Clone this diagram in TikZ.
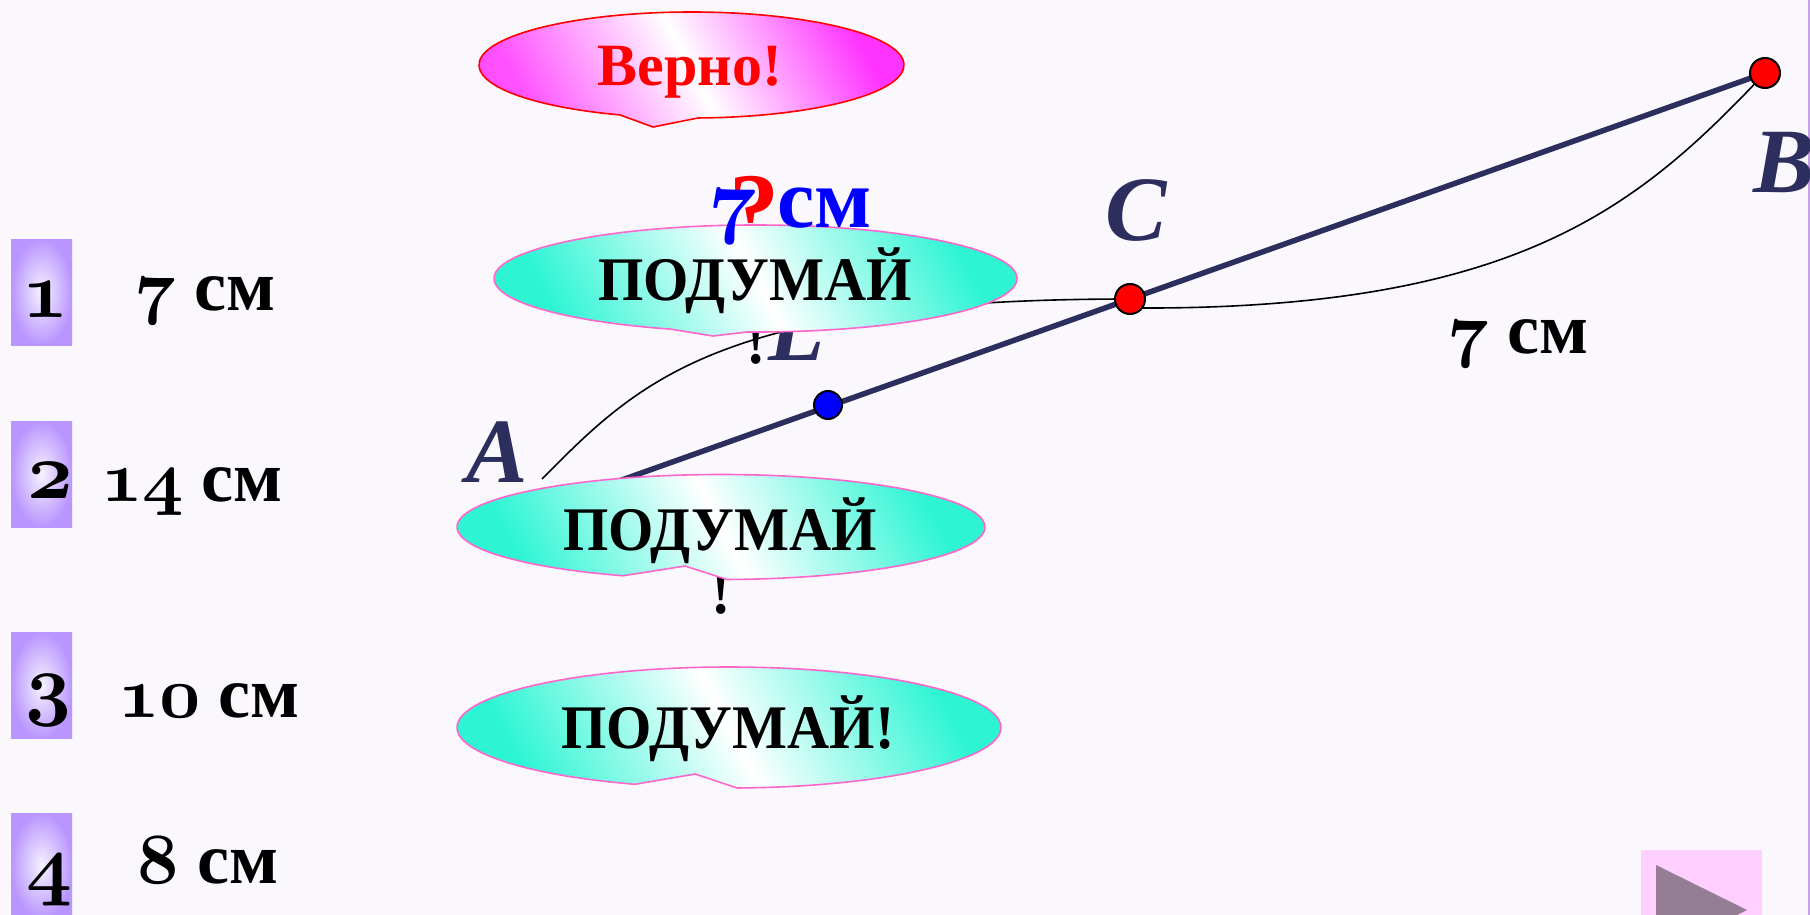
\documentclass[tikz,border=0pt]{standalone}
\usepackage{fontspec}
\setmainfont{Liberation Serif}
\newfontfamily\thinkfont[FakeStretch=0.94]{Liberation Serif}

\definecolor{navy}{RGB}{44,46,94}
\definecolor{tealc}{RGB}{45,245,212}
\definecolor{bubpink}{RGB}{255,102,204}
\definecolor{magc}{RGB}{255,51,255}
\definecolor{lav}{RGB}{185,150,255}
\definecolor{bgc}{RGB}{250,247,253}
\definecolor{playbg}{RGB}{255,208,255}
\definecolor{playtri}{RGB}{150,125,150}
\definecolor{edgec}{RGB}{200,160,230}

\pgfdeclarehorizontalshading{tealband}{100bp}{color(0bp)=(tealc); color(25bp)=(tealc); color(50bp)=(white); color(75bp)=(tealc); color(100bp)=(tealc)}
\pgfdeclarehorizontalshading{magband}{100bp}{color(0bp)=(magc); color(25bp)=(magc!85!white); color(50bp)=(white); color(75bp)=(magc); color(100bp)=(magc)}

% old style figures, any size
\DeclareFontFamily{OML}{osfig}{}
\DeclareFontShape{OML}{osfig}{b}{it}{<-> cmmib10}{}
\newcommand\osnum[1]{{\usefont{OML}{osfig}{b}{it}#1}}

\tikzset{
  numbox/.style={rectangle, inner sep=0pt, minimum width=61pt, minimum height=106pt, inner color=lav!12!white, outer color=lav},
  numtxt/.style={anchor=base, inner sep=0pt, font=\fontsize{80}{90}\selectfont\bfseries},
  answer/.style={anchor=base, inner sep=0pt, font=\fontsize{72}{80}\selectfont\bfseries},
  ptlabel/.style={anchor=base, inner sep=0pt, text=navy, font=\fontsize{92}{100}\selectfont\bfseries\itshape},
  bubtxt/.style={anchor=base, inner sep=0pt, font=\fontsize{62}{70}\selectfont\thinkfont\bfseries},
  tealbub/.style={shading=tealband, shading angle=28, draw=bubpink, line width=1.6pt},
  magbub/.style={shading=magband, shading angle=28, draw=red, line width=1.6pt},
  segline/.style={navy, line width=5.5pt},
  thincurve/.style={black, line width=1.6pt},
  dot/.style={circle, draw=black, line width=2pt, minimum size=30pt, inner sep=0pt},
}

\begin{document}
\begin{tikzpicture}[x=1pt,y=-1pt]
\useasboundingbox (0,0) rectangle (1810,915);
\fill[bgc] (0,0) rectangle (1810,915);
\draw[edgec, line width=1.5pt] (1809,0) -- (1809,915);

% answers on the left
\node[numbox] (box1) at (41.5,292) {};
\node[numbox] (box2) at (41.5,474) {};
\node[numbox] (box3) at (41.5,685.5) {};
\node[numbox] (box4) at (41.5,866) {};
\node[numtxt] (num1) at (46,317) {\osnum{1}};
\node[numtxt] (num2) at (50,498) {\osnum{2}};
\node[numtxt] (num3) at (48,710) {\osnum{3}};
\node[numtxt] (num4) at (49,890) {\osnum{4}};
\node[answer] (ans1) at (205,310) {\osnum{7} см};
\node[answer] (ans2) at (192,501) {\osnum{14} см};
\node[answer] (ans3) at (209,717) {\osnum{10} см};
\node[answer] (ans4) at (208,883) {\osnum{8} см};

% segment AB
\coordinate (A) at (560,502);
\coordinate (B) at (1765,73);
\coordinate (C) at (1130,299);
\coordinate (M) at (828,405);
\coordinate (Aa) at (542,479);
\coordinate (Cb) at (1135,308);
\draw[segline] (A) -- (B);
\draw[thincurve] (Aa) .. controls (640,380) and (720,299) .. (C);
\draw[thincurve] (Cb) .. controls (1520,310) and (1640,205) .. (B);
\node[dot, fill=red] (Bdot) at (B) {};
\node[dot, fill=red] (Cdot) at (C) {};
\node[dot, fill=blue, minimum size=28pt] (Mdot) at (M) {};

% under the bubbles
\node[anchor=base, inner sep=0pt, text=red, font=\fontsize{100}{110}\selectfont\bfseries] (qm) at (754,242) {?};
\node[ptlabel] (Llab) at (797,360) {L};
\node[bubtxt] (ex1) at (756,363) {!};
\node[bubtxt] (ex2) at (721,613) {!};

% bubbles
\shadedraw[magbub] (691.5,65) ++(271.75:212.5pt and 53pt)
    arc[start angle=271.75, end angle=610.3, x radius=212.5pt, y radius=53pt]
    -- (653,127) -- cycle;
\shadedraw[tealbub] (755.5,278.5) ++(268.1:261.5pt and 53.5pt)
    arc[start angle=268.1, end angle=610.9, x radius=261.5pt, y radius=53.5pt]
    -- (713,336) -- cycle;
\shadedraw[tealbub] (721,527) ++(271.3:264pt and 52.5pt)
    arc[start angle=271.3, end angle=608.2, x radius=264pt, y radius=52.5pt]
    -- (685,566) -- cycle;
\shadedraw[tealbub] (729,727.5) ++(271.7:272pt and 60.5pt)
    arc[start angle=271.7, end angle=609.8, x radius=272pt, y radius=60.5pt]
    -- (695,774) -- cycle;
\node[bubtxt, text=red, font=\fontsize{60}{66}\selectfont\bfseries] (verno) at (690,86) {Верно!};
\node[bubtxt] (think1) at (755,300) {ПОДУМАЙ};
\node[bubtxt] (think2) at (720,550) {ПОДУМАЙ};
\node[bubtxt] (think3) at (728,748) {ПОДУМАЙ!};

\node[anchor=base, inner sep=0pt, text=blue, font=\fontsize{84}{92}\selectfont\bfseries] (len) at (790,227) {\osnum{7} см};

% labels
\node[ptlabel] (Alab) at (497,482) {A};
\node[ptlabel] (Blab) at (1784,193) {B};
\node[ptlabel] (Clab) at (1136,240) {C};
\node[answer] (cb) at (1518,353) {\osnum{7} см};

% play button
\fill[playbg] (1641,850) rectangle (1762,915);
\fill[playtri] (1656,865) -- (1747,910) -- (1737,915) -- (1656,915) -- cycle;
\end{tikzpicture}
\end{document}
